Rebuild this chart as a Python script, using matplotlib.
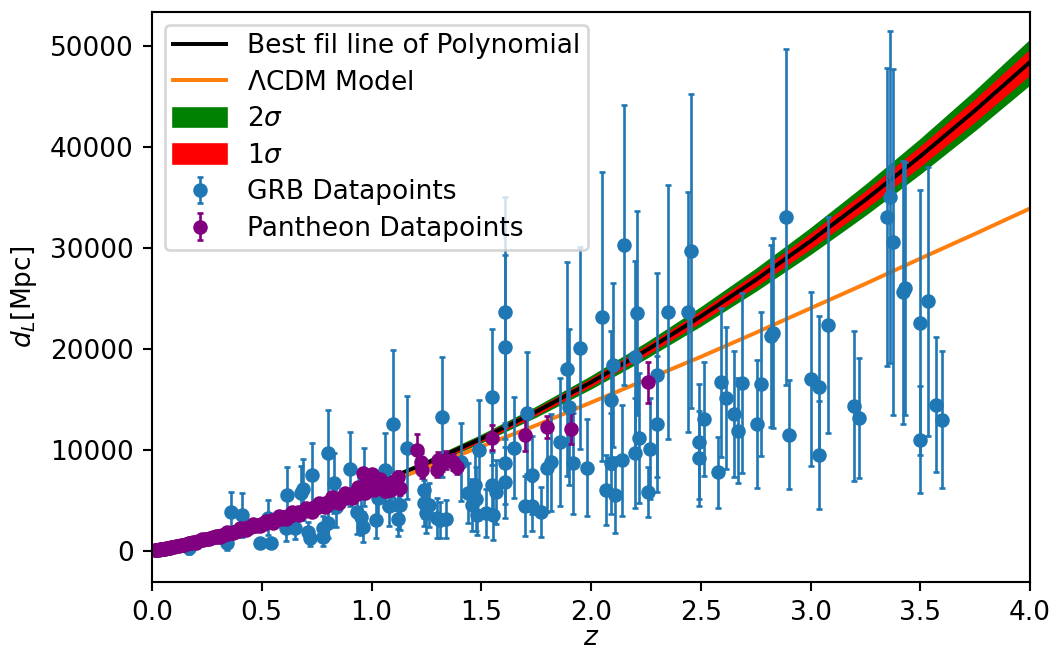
import matplotlib
matplotlib.use('Agg')
import matplotlib.pyplot as plt

# GRB luminosity distances (redshift, d_L in Mpc, 1-sigma error)
grb_z = [0.17, 0.34, 0.36, 0.41, 0.49, 0.53, 0.54, 0.61, 0.615, 0.65, 0.68, 0.69, 0.71, 0.72, 0.73,
         0.78, 0.78, 0.80, 0.80, 0.83, 0.84, 0.90, 0.935, 0.95, 0.96, 0.965, 1.02, 1.03, 1.06, 1.08,
         1.10, 1.12, 1.12, 1.13, 1.16, 1.24, 1.24, 1.25, 1.26, 1.30, 1.31, 1.32, 1.34, 1.41, 1.44,
         1.46, 1.47, 1.475, 1.48, 1.49, 1.52, 1.55, 1.55, 1.555, 1.565, 1.61, 1.61, 1.61, 1.61, 1.65,
         1.70, 1.71, 1.73, 1.73, 1.77, 1.80, 1.82, 1.86, 1.89, 1.90, 1.92, 1.95, 1.98, 2.05, 2.07,
         2.09, 2.09, 2.10, 2.11, 2.14, 2.15, 2.20, 2.20, 2.21, 2.22, 2.26, 2.27, 2.30, 2.30, 2.35,
         2.44, 2.455, 2.49, 2.49, 2.515, 2.58, 2.59, 2.615, 2.65, 2.67, 2.69, 2.755, 2.775, 2.82, 2.83,
         2.89, 2.90, 3.00, 3.04, 3.04, 3.08, 3.20, 3.22, 3.35, 3.36, 3.375, 3.42, 3.43, 3.50, 3.50,
         3.535, 3.57, 3.60]
grb_dl = [300, 800, 3860, 3560, 790, 3300, 790, 2280, 5540, 2280, 5740, 6100, 1900, 1300, 7520,
          1390, 2280, 9700, 2770, 6730, 4360, 8120, 3860, 3370, 2400, 7330, 3070, 5250, 8020, 4450,
          12570, 4550, 3170, 4550, 10200, 6040, 4750, 3760, 4550, 3270, 3070, 13270, 3170, 8800, 5740,
          4550, 6530, 5150, 3560, 10000, 3760, 15250, 6530, 3560, 5840, 23700, 20200, 8700, 6800, 10200,
          4450, 13660, 7520, 4450, 3860, 8200, 8800, 10800, 18000, 14250, 8700, 20100, 8220, 23200, 6040,
          14950, 8700, 18400, 5540, 9000, 30300, 19200, 9700, 23560, 11200, 5840, 10100, 17400, 12570, 23660,
          23660, 29700, 10800, 9200, 13070, 7800, 16700, 15150, 13560, 11900, 16600, 12570, 16530, 21300, 21600,
          33070, 11500, 17000, 16200, 9500, 22400, 14350, 13170, 33070, 35050, 30600, 25600, 26000, 22600, 11000,
          24700, 14500, 13000]
grb_err = [600, 700, 1980, 2200, 500, 1700, 500, 1300, 2800, 1100, 2700, 3000, 1000, 800, 3200,
           900, 1200, 4260, 1500, 3000, 2000, 3700, 2200, 1800, 1500, 2900, 1800, 2500, 3700, 2000,
           7300, 2400, 1700, 2500, 5100, 2800, 2300, 2000, 2200, 2000, 1800, 5900, 1900, 3900, 3000,
           2600, 3500, 3200, 2000, 4900, 2400, 6700, 3300, 2500, 3200, 11350, 9100, 4000, 3500, 5000,
           3000, 6000, 3900, 2500, 2500, 4300, 4800, 6300, 10600, 7700, 5000, 10000, 4800, 14300, 3500,
           6800, 5000, 8100, 3800, 5500, 13900, 9500, 5400, 10100, 6400, 2500, 5000, 10100, 6700, 12600,
           11900, 15500, 5700, 4700, 5650, 3500, 7400, 7000, 6200, 5200, 8900, 6300, 7100, 9000, 9400,
           16600, 5400, 8600, 7100, 5300, 10700, 7400, 5900, 14750, 16400, 17100, 13000, 12500, 13100, 5300,
           13300, 6700, 6800]

# Pantheon SNe Ia
pan_z = [0.012, 0.016, 0.019, 0.023, 0.027, 0.031, 0.036, 0.041, 0.047, 0.053, 0.058, 0.064, 0.071,
         0.078, 0.085, 0.093, 0.101, 0.112, 0.124, 0.133, 0.145, 0.156, 0.168, 0.179, 0.187, 0.198,
         0.209, 0.221, 0.232, 0.243, 0.251, 0.262, 0.268, 0.279, 0.286, 0.294, 0.302, 0.311, 0.318,
         0.327, 0.335, 0.341, 0.352, 0.361, 0.368, 0.377, 0.386, 0.392, 0.401, 0.412, 0.423, 0.431,
         0.443, 0.452, 0.461, 0.472, 0.481, 0.493, 0.504, 0.512, 0.526, 0.537, 0.548, 0.556, 0.569,
         0.581, 0.592, 0.604, 0.617, 0.628, 0.641, 0.652, 0.664, 0.676, 0.688, 0.699, 0.712, 0.724,
         0.736, 0.748, 0.761, 0.773, 0.786, 0.798, 0.811, 0.825, 0.838, 0.852, 0.866, 0.879, 0.893,
         0.906, 0.921, 0.935, 0.948, 0.962, 0.975, 0.980, 0.989, 1.000, 1.003, 1.017, 1.020, 1.034,
         1.052, 1.060, 1.071, 1.080, 1.092, 1.120, 1.130,
         0.05, 0.08, 0.11, 0.14, 0.17, 0.20, 0.23, 0.26, 0.29, 0.31, 0.34, 0.37, 0.40, 0.43, 0.46,
         0.49, 0.52, 0.55, 0.58, 0.61, 0.64, 0.67, 0.70, 0.73, 0.76, 0.79, 0.82, 0.85, 0.88, 0.91,
         0.94, 0.96, 0.97, 0.995, 1.01, 1.04, 1.045, 1.09, 1.11,
         1.207, 1.225, 1.230, 1.300, 1.305, 1.320, 1.340, 1.370, 1.390, 1.550, 1.700, 1.800, 1.910, 2.260]
pan_dl = [52, 68, 80, 97, 115, 128, 152, 176, 198, 226, 245, 272, 300,
          336, 362, 400, 440, 487, 540, 585, 640, 700, 745, 808, 850, 905,
          970, 1040, 1080, 1160, 1170, 1260, 1320, 1340, 1420, 1410, 1500, 1520, 1600,
          1580, 1700, 1650, 1790, 1790, 1880, 1920, 2010, 1960, 2090, 2100, 2240, 2220,
          2350, 2330, 2480, 2450, 2600, 2610, 2740, 2700, 2850, 2880, 3050, 2980, 3150,
          3150, 3330, 3300, 3480, 3430, 3650, 3620, 3850, 3800, 4000, 3920, 4180, 4120,
          4350, 4300, 4520, 4480, 4750, 4600, 4900, 4850, 5100, 5000, 5350, 5250, 5550,
          5400, 5750, 5650, 6050, 5900, 6400, 7200, 6150, 7600, 6500, 6300, 6900, 6600,
          6500, 5900, 6300, 6000, 6100, 7300, 6200,
          240, 310, 520, 600, 830, 840, 1150, 1150, 1530, 1400, 1850, 1750, 2250, 2080, 2650,
          2430, 3000, 2800, 3450, 3150, 3900, 3550, 4300, 3900, 4800, 4350, 5300, 4750, 5700, 5200,
          6300, 7700, 5700, 6900, 6000, 7100, 6200, 6700, 6400,
          10000, 8800, 8020, 8020, 9000, 8700, 9000, 8800, 8300, 11200, 11500, 12300, 12100, 16700]
pan_err = [5, 6, 7, 8, 9, 10, 11, 12, 13, 14, 15, 16, 17,
           18, 19, 20, 22, 24, 26, 28, 30, 32, 34, 36, 38, 40,
           42, 45, 48, 50, 52, 55, 58, 60, 62, 64, 66, 68, 70,
           72, 75, 78, 80, 82, 85, 88, 90, 92, 95, 98, 100, 105,
           110, 115, 120, 125, 130, 135, 140, 145, 150, 155, 160, 165, 170,
           175, 180, 185, 190, 195, 200, 210, 220, 230, 240, 250, 260, 270,
           280, 290, 300, 310, 320, 330, 340, 350, 360, 370, 380, 390, 400,
           410, 420, 430, 440, 450, 460, 470, 480, 490, 500, 510, 520, 530,
           540, 550, 560, 570, 580, 600, 620,
           15, 20, 25, 30, 35, 40, 45, 50, 60, 65, 75, 85, 95, 100, 120,
           130, 145, 160, 175, 185, 200, 220, 250, 270, 300, 320, 340, 360, 380, 410,
           440, 450, 460, 490, 500, 530, 540, 570, 590,
           1600, 900, 800, 700, 800, 800, 900, 800, 700, 1240, 1650, 1100, 1530, 2000]

# model curves
model_z = [0.0, 0.25, 0.5, 0.75, 1.0, 1.25, 1.5, 1.75, 2.0, 2.25, 2.5, 2.75, 3.0, 3.25, 3.5, 3.75, 4.0]
poly_dl = [0, 1270, 2770, 4500, 6480, 8680, 11120, 13790, 16700, 19840, 23220, 26830, 30680, 34760, 39070,
           43620, 48400]
lcdm_dl = [0, 1183, 2679, 4371, 6250, 8230, 10340, 12440, 14700, 16950, 19220, 21600, 24030, 26450, 28950,
           31400, 33910]
sig1 = [0, 5, 15, 40, 70, 110, 160, 215, 280, 355, 440, 530, 630, 740, 860, 985, 1120]
sig2 = [0, 10, 35, 75, 130, 205, 295, 400, 525, 665, 820, 990, 1180, 1385, 1605, 1840, 2100]

fig = plt.figure(figsize=(1055 / 190, 654 / 190), dpi=190)
ax = fig.add_axes([152 / 1055, 1 - 582 / 654, 878 / 1055, 570 / 654])

lo2 = [p - s for p, s in zip(poly_dl, sig2)]
hi2 = [p + s for p, s in zip(poly_dl, sig2)]
lo1 = [p - s for p, s in zip(poly_dl, sig1)]
hi1 = [p + s for p, s in zip(poly_dl, sig1)]

ax.plot(model_z, poly_dl, color='black', label='Best fil line of Polynomial')
ax.plot(model_z, lcdm_dl, color='tab:orange', label=r'$\Lambda$CDM Model')
ax.fill_between(model_z, lo2, hi2, color='green', label=r'2$\sigma$')
ax.fill_between(model_z, lo1, hi1, color='red', label=r'1$\sigma$')

ax.errorbar(grb_z, grb_dl, yerr=grb_err, fmt='o', color='tab:blue', markersize=4.5,
            elinewidth=1.0, capsize=1.2, label='GRB Datapoints')
ax.errorbar(pan_z, pan_dl, yerr=pan_err, fmt='o', color='purple', markersize=4.5,
            elinewidth=1.0, capsize=1.2, label='Pantheon Datapoints')

ax.set_xlim(0, 4)
ax.set_ylim(-3070, 53360)
ax.set_xlabel('$z$', labelpad=-0.5)
ax.set_ylabel('$d_L$[Mpc]')
ax.legend(loc='upper left', labelspacing=0.4, borderpad=0.3)

fig.savefig('out.png', dpi=190)
